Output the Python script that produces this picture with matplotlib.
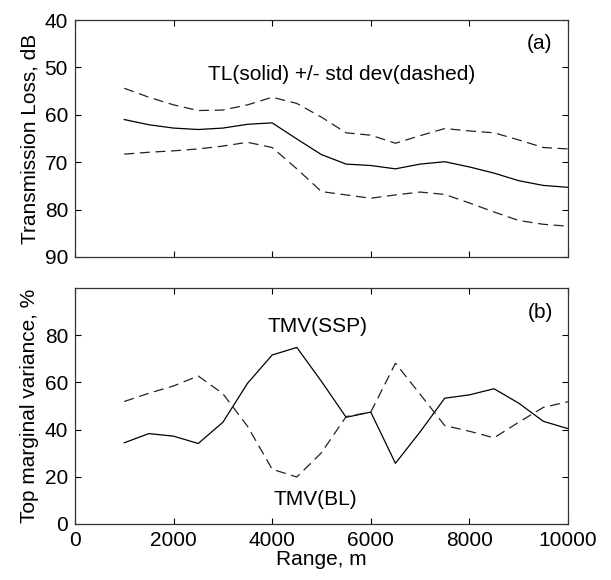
import matplotlib.pyplot as plt

plt.rcParams['font.family'] = ['Liberation Sans', 'DejaVu Sans']
plt.rcParams['font.size'] = 15

rng = [1000, 1500, 2000, 2500, 3000, 3500, 4000, 4500, 5000, 5500,
       6000, 6500, 7000, 7500, 8000, 8500, 9000, 9500, 10000]

# panel (a): transmission loss, dB
tl_mean = [61.0, 62.1, 62.8, 63.1, 62.8, 62.0, 61.7, 65.1, 68.4, 70.4,
           70.7, 71.4, 70.4, 69.9, 71.0, 72.3, 73.9, 74.9, 75.3]
tl_upper = [54.4, 56.3, 57.9, 59.1, 59.0, 57.9, 56.3, 57.6, 60.5, 63.8,
            64.3, 66.0, 64.4, 62.9, 63.4, 63.8, 65.3, 66.9, 67.2]
tl_lower = [68.3, 67.9, 67.6, 67.2, 66.6, 65.8, 66.9, 71.4, 76.2, 76.9,
            77.6, 76.9, 76.3, 76.8, 78.6, 80.5, 82.3, 83.1, 83.5]

# panel (b): top marginal variance, %
tmv_ssp = [34.4, 38.3, 37.2, 34.1, 43.1, 59.6, 71.6, 74.8, 60.4, 45.2,
           47.4, 25.7, 39.0, 53.3, 54.7, 57.3, 51.2, 43.5, 40.4]
tmv_bl = [51.9, 55.4, 58.5, 62.7, 55.2, 41.4, 23.2, 19.9, 30.2, 45.5,
          47.4, 68.1, 55.0, 41.7, 39.3, 36.5, 43.1, 49.4, 51.8]

fig = plt.figure(figsize=(6.11, 5.8), dpi=100)
ax1 = fig.add_axes([0.1227, 0.5569, 0.8069, 0.4086])
ax2 = fig.add_axes([0.1227, 0.0966, 0.8069, 0.4069])

lw = 0.9
dash = (8, 4.5)
ax1.plot(rng, tl_mean, color='black', lw=lw)
ax1.plot(rng, tl_upper, color='#222222', lw=lw, dashes=dash)
ax1.plot(rng, tl_lower, color='#222222', lw=lw, dashes=dash)
ax1.set_xlim(0, 10000)
ax1.set_ylim(90, 40)
ax1.set_yticks([40, 50, 60, 70, 80, 90])
ax1.set_xticks([0, 2000, 4000, 6000, 8000, 10000])
ax1.set_xticklabels([])
ax1.set_ylabel('Transmission Loss, dB', labelpad=4)
ax1.text(5416, 51.4, 'TL(solid) +/- std dev(dashed)', ha='center', va='center')
ax1.text(9432, 44.9, '(a)', ha='center', va='center')

ax2.plot(rng, tmv_ssp, color='black', lw=lw)
ax2.plot(rng, tmv_bl, color='#222222', lw=lw, dashes=dash)
ax2.set_xlim(0, 10000)
ax2.set_ylim(0, 100)
ax2.set_yticks([0, 20, 40, 60, 80])
ax2.set_xticks([0, 2000, 4000, 6000, 8000, 10000])
ax2.set_xlabel('Range, m', labelpad=0)
ax2.set_ylabel('Top marginal variance, %', labelpad=4)
ax2.text(4914, 83.6, 'TMV(SSP)', ha='center', va='center')
ax2.text(4877, 10.2, 'TMV(BL)', ha='center', va='center')
ax2.text(9442, 89.4, '(b)', ha='center', va='center')

for ax in (ax1, ax2):
    ax.tick_params(direction='in', top=True, right=True, length=4.5, width=0.8, pad=5)
    for s in ax.spines.values():
        s.set_linewidth(0.9)
        s.set_color('#333333')

fig.savefig('out.png', dpi=100)
